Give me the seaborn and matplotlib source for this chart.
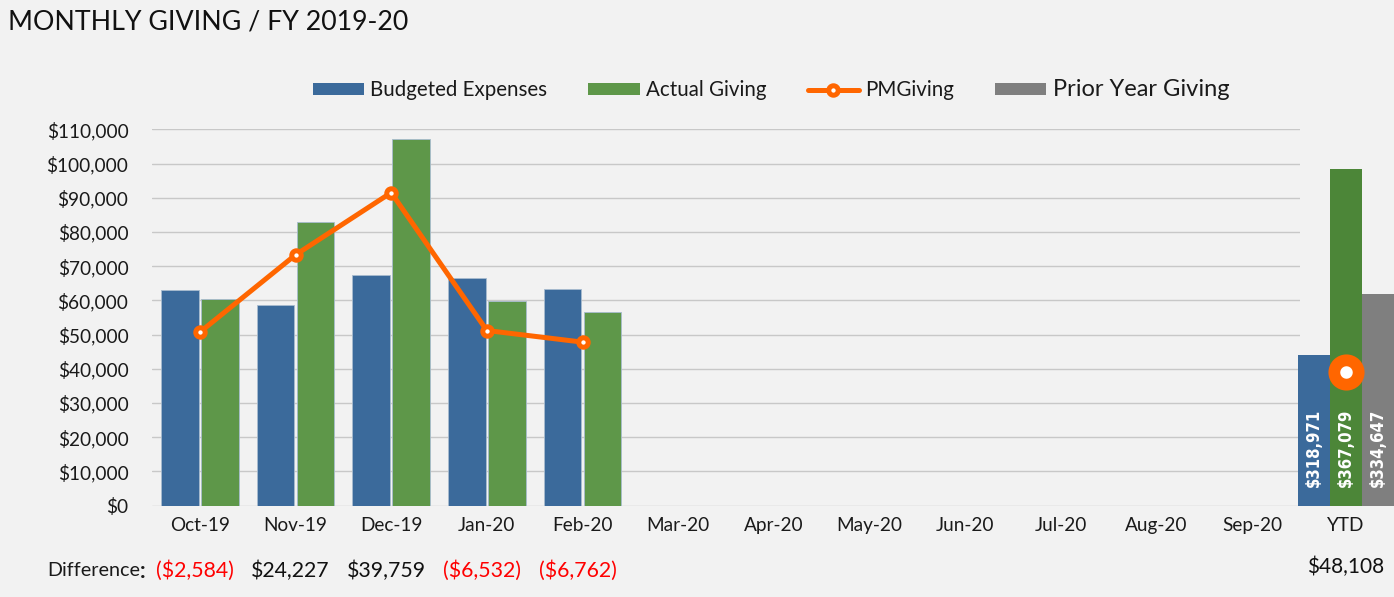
import matplotlib
matplotlib.use("Agg")
import matplotlib.pyplot as plt
import matplotlib.transforms as mtransforms
from matplotlib.patches import Patch
from matplotlib.lines import Line2D
import seaborn as sns
import pandas as pd

# ---------------- data ----------------
months = ["Oct-19", "Nov-19", "Dec-19", "Jan-20", "Feb-20", "Mar-20",
          "Apr-20", "May-20", "Jun-20", "Jul-20", "Aug-20", "Sep-20"]
data_months = ["Oct-19", "Nov-19", "Dec-19", "Jan-20", "Feb-20"]
budgeted = [62950, 58650, 67400, 66500, 63471]
actual = [60366, 82877, 107159, 59968, 56709]
pm_giving = [50700, 73300, 91500, 51200, 47800]
difference = [-2584, 24227, 39759, -6532, -6762]

ytd_series = ["Budgeted Expenses", "Actual Giving", "Prior Year Giving"]
ytd_values = [318971, 367079, 334647]
ytd_pm = 314500
ytd_difference = 48108

yticks = list(range(0, 110001, 10000))

# ---------------- style ----------------
BG = "#f2f2f2"
BLUE = "#3b6a9b"
GREEN = "#5e9749"
GREEN_D = "#4c8638"
GRAY = "#7f7f7f"
ORANGE = "#ff6600"
GRID = "#c8c8c8"

sns.set_theme(style="white")
plt.rcParams["font.family"] = ["Lato", "DejaVu Sans"]
plt.rcParams["text.color"] = "#1a1a1a"
plt.rcParams["xtick.color"] = "#1a1a1a"
plt.rcParams["ytick.color"] = "#1a1a1a"

W, H = 1394, 597
fig = plt.figure(figsize=(W / 100, H / 100), dpi=100, facecolor=BG)

def fx(px):
    return px / W

def fy(py):
    return 1 - py / H

ax_top, ax_bot = 129.3, 505.7
ax = fig.add_axes([fx(152), fy(ax_bot), fx(1300) - fx(152), fy(ax_top) - fy(ax_bot)])
ax.set_facecolor(BG)

bar_df = pd.DataFrame({
    "Month": data_months * 2,
    "Series": ["Budgeted Expenses"] * len(data_months) + ["Actual Giving"] * len(data_months),
    "Value": budgeted + actual,
})
sns.barplot(data=bar_df, x="Month", y="Value", hue="Series", order=months,
            hue_order=["Budgeted Expenses", "Actual Giving"],
            palette=[BLUE, GREEN], saturation=1, width=0.836, gap=0.06, legend=False,
            edgecolor="#a8bccf", linewidth=0.6, ax=ax, zorder=2)

pm_df = pd.DataFrame({"Month": data_months, "PM": pm_giving})
sns.pointplot(data=pm_df, x="Month", y="PM", order=months, color=ORANGE,
              markers="o", ax=ax, zorder=4)
for ln in ax.lines:
    ln.set_linewidth(3.6)
    ln.set_markersize(6.8)
    ln.set_markeredgewidth(3.6)
    ln.set_markerfacecolor("white")
    ln.set_markeredgecolor(ORANGE)
    ln.set_color(ORANGE)
    ln.set_zorder(4)

ax.set_ylim(0, 110000)
ax.set_xlim(-0.5, len(months) - 0.5)
ax.set_yticks(yticks)
ax.yaxis.set_major_formatter(matplotlib.ticker.StrMethodFormatter("${x:,.0f}"))
ax.grid(axis="y", color=GRID, linewidth=1.0, zorder=0)
ax.set_axisbelow(True)
for s in ax.spines.values():
    s.set_visible(False)
ax.tick_params(axis="y", length=0, pad=17, labelsize=13.7)
ax.tick_params(axis="x", length=0, pad=8, labelsize=13.7)
ax.set_xlabel("")
ax.set_ylabel("")

# ---------------- YTD panel ----------------
ax2 = fig.add_axes([fx(1298), fy(ax_bot), fx(1394) - fx(1298), fy(ax_top) - fy(ax_bot)])
ax2.set_facecolor("none")
ytd_df = pd.DataFrame({"Period": ["YTD"] * 3, "Series": ytd_series, "Value": ytd_values})
sns.barplot(data=ytd_df, x="Period", y="Value", hue="Series", hue_order=ytd_series,
            palette=[BLUE, GREEN_D, GRAY], saturation=1, width=1.0, gap=0, legend=False,
            edgecolor="none", linewidth=0, ax=ax2)
ax2.set_ylim(279800, 377500)
ax2.set_xlim(-0.5, 0.5)
ax2.set_yticks([])
for s in ax2.spines.values():
    s.set_visible(False)
ax2.tick_params(axis="x", length=0, pad=8, labelsize=13.7)
ax2.set_xlabel("")
ax2.set_ylabel("")

patches = sorted(ax2.patches, key=lambda p: p.get_x())
for p, v in zip(patches, ytd_values):
    cx = p.get_x() + p.get_width() / 2
    ax2.annotate(f"${v:,.0f}", xy=(cx, ax2.get_ylim()[0]), xytext=(0, 13.5),
                 textcoords="offset points", rotation=90, ha="center", va="bottom",
                 color="white", fontsize=12, fontweight="bold",
                 family=["DejaVu Sans"], fontstretch="condensed")
green_p = patches[1]
gx = green_p.get_x() + green_p.get_width() / 2
ax2.plot([gx], [ytd_pm], marker="o", markersize=17.5, markeredgewidth=8.5,
         markerfacecolor="white", markeredgecolor=ORANGE, linestyle="none",
         zorder=5, clip_on=False)

# ---------------- legend ----------------
handles = [
    Patch(facecolor=BLUE, edgecolor="none"),
    Patch(facecolor=GREEN, edgecolor="none"),
    Line2D([0], [0], color=ORANGE, lw=3.6, marker="o", markersize=6.8,
           markeredgewidth=3.6, markerfacecolor="white", markeredgecolor=ORANGE),
    Patch(facecolor=GRAY, edgecolor="none"),
]
labels = ["Budgeted Expenses", "Actual Giving", "PMGiving", "Prior Year Giving"]
leg = fig.legend(handles, labels, loc="center", bbox_to_anchor=(fx(771), fy(90)),
                 ncol=4, frameon=False, fontsize=14.8, handlelength=2.5,
                 handleheight=0.5, handletextpad=0.3, columnspacing=2.0)
leg.get_texts()[3].set_fontsize(17)

# ---------------- texts ----------------
fig.text(fx(8), fy(22), "MONTHLY GIVING / FY 2019-20", fontsize=19.3,
         ha="left", va="center", color="#111111")

diff_y = fy(571)
t = fig.text(fx(47), diff_y, "Difference", fontsize=14.2, ha="left", va="center")
ax.annotate(":", xy=(1, 0.5), xycoords=t, ha="left", va="center",
            fontsize=16, fontweight="bold")

trans = mtransforms.blended_transform_factory(ax.transData, fig.transFigure) + \
    mtransforms.ScaledTranslation(-5 / 100, 0, fig.dpi_scale_trans)
for i, d in enumerate(difference):
    txt = f"(${abs(d):,.0f})" if d < 0 else f"${d:,.0f}"
    fig.text(i, diff_y, txt, transform=trans, ha="center", va="center",
             fontsize=15.3, color="#ff0000" if d < 0 else "#111111")

trans2 = mtransforms.blended_transform_factory(ax2.transData, fig.transFigure)
fig.text(0, fy(567), f"${ytd_difference:,.0f}", transform=trans2, ha="center",
         va="center", fontsize=15, color="#111111")

fig.savefig("out.png", dpi=100, facecolor=BG)
